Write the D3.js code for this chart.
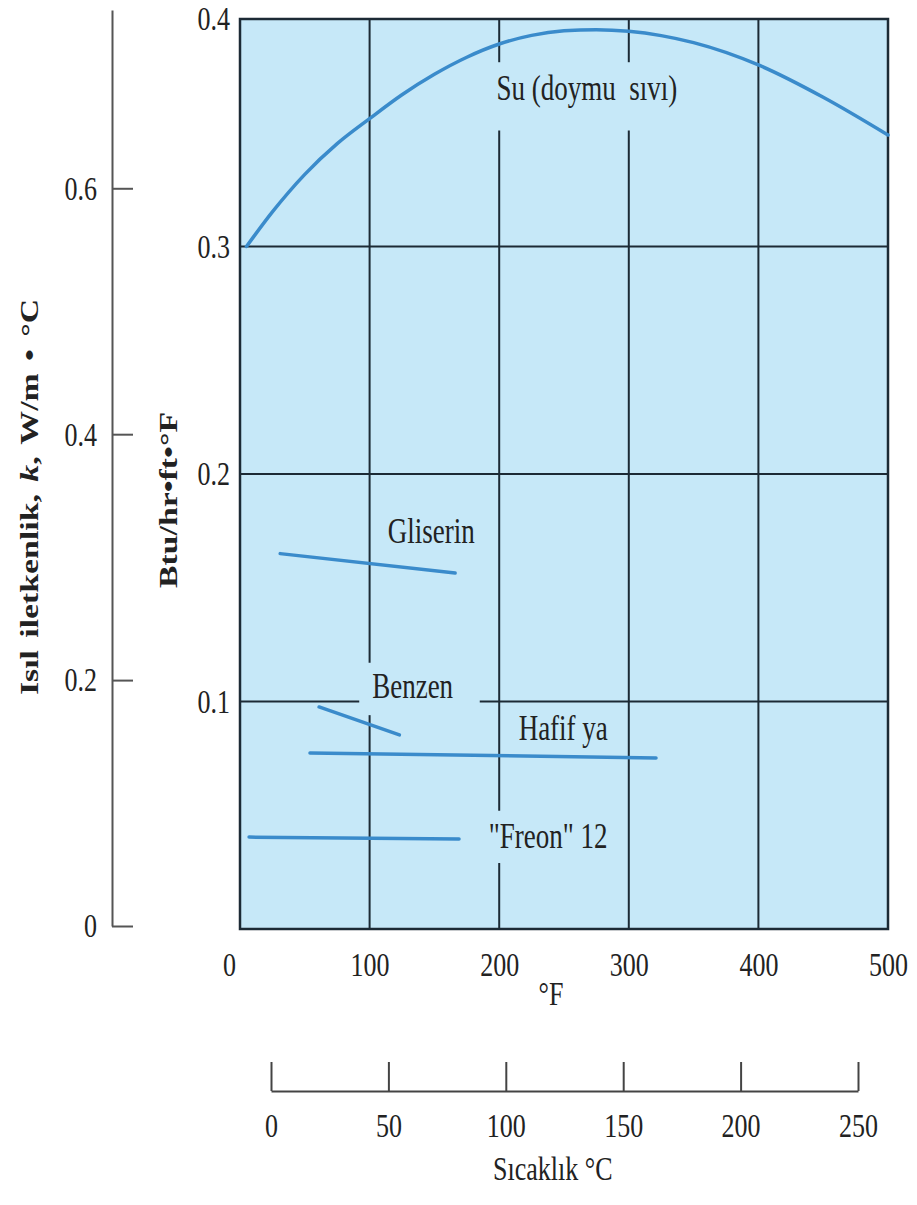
<!DOCTYPE html>
<html>
<head>
<meta charset="utf-8">
<script src="https://cdn.jsdelivr.net/npm/d3@7"></script>
<style>
  body { margin: 0; background: #fff; }
  text { font-family: "Liberation Serif", "Times New Roman", serif; fill: #222; }
</style>
</head>
<body>
<div id="chart"></div>
<script>
var svgWidth = 917;
var svgHeight = 1205;
var stretch = 1.3; // the scanned figure is taller than wide, text included

// ticks
var fahrenheitTicks = [0, 100, 200, 300, 400, 500];
var btuTicks = [0.1, 0.2, 0.3, 0.4];
var siTicks = [0, 0.2, 0.4, 0.6];
var celsiusTicks = [0, 50, 100, 150, 200, 250];
var gridF = [100, 200, 300, 400];
var gridBtu = [0.1, 0.2, 0.3];

// series (temperature in °F, k in Btu/hr·ft·°F)
var waterF = [5, 25, 50, 75, 100, 125, 150, 175, 200, 225, 250, 275, 300, 325, 350, 400, 450, 500];
var waterK = [0.300, 0.3152, 0.3317, 0.3452, 0.3562, 0.3667, 0.3757, 0.3832, 0.3890, 0.3928, 0.3948, 0.3953, 0.3946, 0.3927, 0.3896, 0.3798, 0.3656, 0.3490];
var glycerinF = [31, 166];
var glycerinK = [0.165, 0.1565];
var benzeneF = [61, 123];
var benzeneK = [0.0976, 0.0853];
var lightOilF = [54, 321];
var lightOilK = [0.0774, 0.0752];
var freonF = [7, 169];
var freonK = [0.0404, 0.0396];

// series labels, anchored in data units
var labelText = ["Su (doymu  sıvı)", "Gliserin", "Benzen", "Hafif ya", "\"Freon\" 12"];
var labelF = [198, 114, 102, 215, 192];
var labelK = [0.3644, 0.1697, 0.1015, 0.0831, 0.0356];

// grid lines are broken where labels sit
var gapsF = { 100: [[0.094, 0.117]], 200: [[0.029, 0.052], [0.351, 0.381]], 300: [[0.351, 0.381]], 400: [] };
var gapsBtu = { 0.1: [[92, 185]], 0.2: [], 0.3: [] };

var series = [
  { f: waterF, k: waterK },
  { f: glycerinF, k: glycerinK },
  { f: benzeneF, k: benzeneK },
  { f: lightOilF, k: lightOilK },
  { f: freonF, k: freonK }
];

var svg = d3.select("#chart")
  .append("svg")
  .attr("width", svgWidth)
  .attr("height", svgHeight);

// scales
var x = d3.scaleLinear().domain([0, 500]).range([240, 888]);
var y = d3.scaleLinear().domain([0, 0.4]).range([929, 19]);
var ySI = d3.scaleLinear().domain([0, 0.745]).range([926, 10]);
var xC = d3.scaleLinear().domain([0, 250]).range([271, 858]);

var gridColor = "#1c2a35";
var curveColor = "#3a8bcb";

// plot background
svg.append("rect")
  .attr("x", x(0))
  .attr("y", y(0.4))
  .attr("width", x(500) - x(0))
  .attr("height", y(0) - y(0.4))
  .attr("fill", "#c6e8f8");

function segments(lo, hi, gaps) {
  var segs = [], start = lo;
  gaps.slice().sort(function(a, b) { return a[0] - b[0]; }).forEach(function(g) {
    segs.push([start, g[0]]);
    start = g[1];
  });
  segs.push([start, hi]);
  return segs;
}

// vertical grid
gridF.forEach(function(f) {
  segments(0, 0.4, gapsF[f]).forEach(function(s) {
    svg.append("line")
      .attr("x1", x(f)).attr("x2", x(f))
      .attr("y1", y(s[0])).attr("y2", y(s[1]))
      .attr("stroke", gridColor)
      .attr("stroke-width", 2);
  });
});

// horizontal grid
gridBtu.forEach(function(k) {
  segments(0, 500, gapsBtu[k]).forEach(function(s) {
    svg.append("line")
      .attr("x1", x(s[0])).attr("x2", x(s[1]))
      .attr("y1", y(k)).attr("y2", y(k))
      .attr("stroke", gridColor)
      .attr("stroke-width", 2.2);
  });
});

// frame
svg.append("rect")
  .attr("x", x(0))
  .attr("y", y(0.4))
  .attr("width", x(500) - x(0))
  .attr("height", y(0) - y(0.4))
  .attr("fill", "none")
  .attr("stroke", gridColor)
  .attr("stroke-width", 2.5);

// curves
var line = d3.line()
  .x(function(d) { return x(d[0]); })
  .y(function(d) { return y(d[1]); })
  .curve(d3.curveMonotoneX);

svg.selectAll(".series")
  .data(series)
  .enter()
  .append("path")
  .attr("class", "series")
  .attr("d", function(s) { return line(d3.zip(s.f, s.k)); })
  .attr("fill", "none")
  .attr("stroke", curveColor)
  .attr("stroke-width", 3.5)
  .attr("stroke-linecap", "round");

// series labels
svg.selectAll(".label")
  .data(labelText)
  .enter()
  .append("text")
  .attr("class", "label")
  .attr("transform", function(d, i) {
    return "translate(" + x(labelF[i]) + "," + y(labelK[i]) + ") scale(1," + stretch + ")";
  })
  .style("font-size", "27px")
  .style("white-space", "pre")
  .text(function(d) { return d; });

function styleTicks(g, size) {
  g.selectAll("text")
    .style("font-size", size + "px")
    .style("font-family", "'Liberation Serif', serif")
    .attr("fill", "#222")
    .attr("transform", "scale(1," + stretch + ")");
}

// Btu axis (inner left)
var btuAxis = svg.append("g")
  .attr("transform", "translate(" + x(0) + ",0)")
  .call(d3.axisLeft(y).tickValues(btuTicks).tickSize(0).tickPadding(10).tickFormat(d3.format(".1f")));
btuAxis.select(".domain").remove();
styleTicks(btuAxis, 26);

// Fahrenheit axis
var fAxis = svg.append("g")
  .attr("transform", "translate(0," + y(0) + ")")
  .call(d3.axisBottom(x).tickValues(fahrenheitTicks).tickSize(0).tickPadding(18).tickFormat(d3.format("d")));
fAxis.select(".domain").remove();
styleTicks(fAxis, 26);
fAxis.selectAll(".tick text").filter(function(d) { return d === 0; }).attr("x", -11);

// SI axis (outer left)
var siAxis = svg.append("g")
  .attr("transform", "translate(112,0)")
  .call(d3.axisLeft(ySI).tickValues(siTicks).tickSizeInner(-21).tickSizeOuter(0).tickPadding(15)
    .tickFormat(function(d) { return d === 0 ? "0" : d3.format(".1f")(d); }));
siAxis.selectAll("line, path").attr("stroke", "#555").attr("stroke-width", 2);
styleTicks(siAxis, 26);

// Celsius axis
var cAxis = svg.append("g")
  .attr("transform", "translate(0,1091)")
  .call(d3.axisBottom(xC).tickValues(celsiusTicks).tickSizeInner(-29).tickSizeOuter(0).tickPadding(17).tickFormat(d3.format("d")));
cAxis.selectAll("line, path").attr("stroke", "#444").attr("stroke-width", 2);
styleTicks(cAxis, 26);

// axis titles
svg.append("text")
  .attr("transform", "translate(38,497) scale(1," + stretch + ") rotate(-90)")
  .attr("text-anchor", "middle")
  .style("font-size", "26px")
  .style("font-weight", "bold")
  .style("word-spacing", "3px")
  .html("Isıl iletkenlik, <tspan font-style='italic'>k</tspan>, W/m • °C");

svg.append("text")
  .attr("transform", "translate(177,500) scale(1," + stretch + ") rotate(-90)")
  .attr("text-anchor", "middle")
  .style("font-size", "26px")
  .style("font-weight", "bold")
  .text("Btu/hr•ft•°F");

svg.append("text")
  .attr("transform", "translate(" + x(240) + ",1005) scale(1," + stretch + ")")
  .attr("text-anchor", "middle")
  .style("font-size", "26px")
  .text("°F");

svg.append("text")
  .attr("transform", "translate(" + xC(120) + ",1180) scale(1," + stretch + ")")
  .attr("text-anchor", "middle")
  .style("font-size", "26px")
  .text("Sıcaklık °C");
</script>
</body>
</html>
